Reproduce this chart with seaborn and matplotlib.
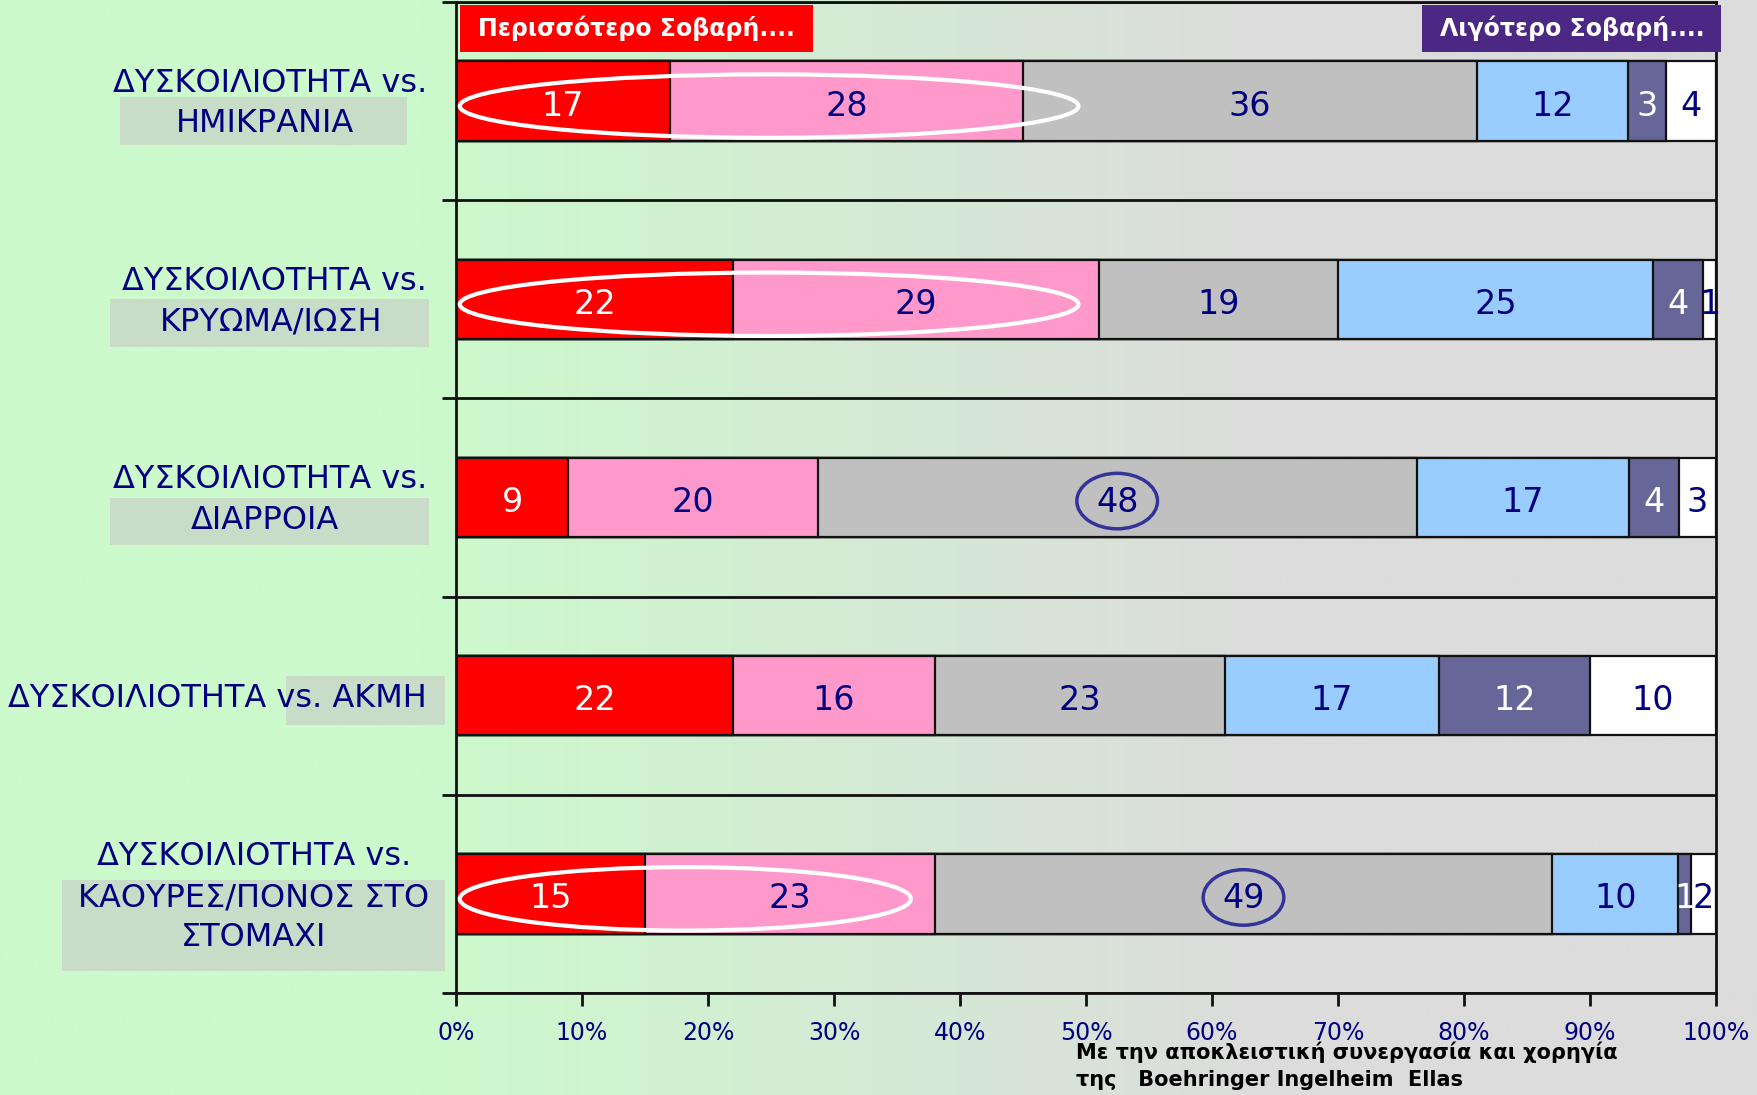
import numpy as np
import pandas as pd
import matplotlib
matplotlib.use('Agg')
import matplotlib.pyplot as plt
import seaborn as sns
from matplotlib.patches import Rectangle, Ellipse
from matplotlib.colors import to_rgb
import matplotlib.transforms as mtransforms

# Data (answer shares per comparison, % of respondents)
categories = ['ΗΜΙΚΡΑΝΙΑ', 'ΚΡΥΩΜΑ/ΙΩΣΗ', 'ΔΙΑΡΡΟΙΑ', 'ΑΚΜΗ', 'ΚΑΟΥΡΕΣ/ΠΟΝΟΣ ΣΤΟ ΣΤΟΜΑΧΙ']
much_more = [17, 22, 9, 22, 15]
more = [28, 29, 20, 16, 23]
same = [36, 19, 48, 23, 49]
less = [12, 25, 17, 17, 10]
much_less = [3, 4, 4, 12, 1]
dont_know = [4, 1, 3, 10, 2]
xtick_labels = ['0%', '10%', '20%', '30%', '40%', '50%', '60%', '70%', '80%', '90%', '100%']

series = [much_more, more, same, less, much_less, dont_know]
colors = ['#FF0000', '#FF99CC', '#C0C0C0', '#99CCFF', '#666699', '#FFFFFF']
text_colors = ['white', '#000080', '#000080', '#000080', 'white', '#000080']
navy = '#000080'

sns.set_style('white')
plt.rcParams['font.family'] = ['Liberation Sans Narrow', 'DejaVu Sans']

# 100% stacked shares
vals = np.array(series, dtype=float)          # shape (6, 5)
pct = vals / vals.sum(axis=0) * 100
cum = np.cumsum(pct, axis=0)

W, H = 1758, 1095
fig = plt.figure(figsize=(W / 100, H / 100), dpi=100)

# background gradient green -> gray
bg = fig.add_axes([0, 0, 1, 1], zorder=-10)
xs = np.linspace(0, 1, 600)
t = np.clip((xs - 0.24) / (0.72 - 0.24), 0, 1)
c0, c1 = np.array(to_rgb('#CCFACC')), np.array(to_rgb('#DCDCDC'))
grad = c0[None, :] * (1 - t[:, None]) + c1[None, :] * t[:, None]
bg.imshow(grad[None, :, :], aspect='auto', extent=[0, 1, 0, 1])
bg.axis('off')

ax = fig.add_axes([456 / W, 1 - 993 / H, (1716 - 456) / W, (993 - 2) / H])
ax.patch.set_alpha(0)

# draw stacked bars: cumulative totals, longest first
for k in range(len(series) - 1, -1, -1):
    df = pd.DataFrame({'cat': categories, 'cum': cum[k]})
    sns.barplot(data=df, x='cum', y='cat', orient='h', color=colors[k], saturation=1,
                width=0.4, edgecolor='#111111', linewidth=1.6, ax=ax, zorder=2)

# value labels
for k in range(len(series)):
    left = cum[k] - pct[k]
    for i in range(len(categories)):
        ax.text(left[i] + pct[k][i] / 2, i + 0.025, str(series[k][i]), ha='center', va='center',
                fontsize=24, color=text_colors[k], zorder=5)

ax.set_xlim(0, 100)
ax.set_ylim(4.5, -0.5)
ax.set_xlabel('')
ax.set_ylabel('')
ax.set_xticks(np.arange(0, 101, 10))
ax.set_xticklabels(xtick_labels, color=navy, fontsize=17)
ax.set_yticks([])
ax.set_yticks(np.arange(-0.5, 5, 1), minor=True)
ax.tick_params(axis='x', direction='out', length=9, width=2, color='#111111', pad=11, bottom=True)
ax.tick_params(axis='y', which='minor', direction='out', length=10, width=2, color='#111111', left=True)
ax.grid(True, axis='y', which='minor', color='#111111', linewidth=2)
ax.set_axisbelow(True)
for s in ax.spines.values():
    s.set_color('#111111')
    s.set_linewidth(2)

# highlight ellipses / circles
for i, x0, x1 in [(0, 0.3, 49.4), (1, 0.3, 49.4), (4, 0.3, 36.1)]:
    ax.add_patch(Ellipse(((x0 + x1) / 2, i + 0.025), x1 - x0, 0.32, fill=False,
                         edgecolor='white', linewidth=3, zorder=4))
for i in [2, 4]:
    xc = cum[2][i] - pct[2][i] / 2
    ax.add_patch(Ellipse((xc, i + 0.018), 6.4, 0.28, fill=False,
                         edgecolor='#333399', linewidth=2.5, zorder=4))

# banners
ax.add_patch(Rectangle((0.3, -0.487), 28.0, 0.239, facecolor='#FF0000', edgecolor='none',
                       zorder=3, clip_on=False))
ax.text(14.3, -0.368, 'Περισσότερο Σοβαρή....', ha='center', va='center', color='white',
        fontsize=17, fontweight='bold', zorder=5)
ax.add_patch(Rectangle((76.7, -0.487), 23.7, 0.239, facecolor='#4B2884', edgecolor='none',
                       zorder=3, clip_on=False))
ax.text(88.6, -0.368, 'Λιγότερο Σοβαρή....', ha='center', va='center', color='white',
        fontsize=17, fontweight='bold', zorder=5, clip_on=False)

# category labels (x in figure fraction, y in data units)
tr = mtransforms.blended_transform_factory(fig.transFigure, ax.transData)
box_c = '#C8DCC8'
lab_fs = 23
boxes = [(120, 407, 0, -0.02, 0.22), (110, 429, 1, 0.0, 0.24), (110, 429, 2, 0.0, 0.24),
         (286, 445, 3, -0.10, 0.148), (62, 445, 4, -0.07, 0.39)]
for x0, x1, i, y0, y1 in boxes:
    ax.add_patch(Rectangle((x0 / W, i + y0), (x1 - x0) / W, y1 - y0, transform=tr,
                           facecolor=box_c, edgecolor='none', clip_on=False, zorder=1))

head = ['ΔΥΣΚΟΙΛΙΟΤΗΤΑ vs.', 'ΔΥΣΚΟΙΛΟΤΗΤΑ vs.', 'ΔΥΣΚΟΙΛΙΟΤΗΤΑ vs.']
for i in range(3):
    ax.text(427 / W, i - 0.09, head[i], transform=tr, ha='right', va='center',
            fontsize=lab_fs, color=navy, clip_on=False)
    ax.text([265, 271, 265][i] / W, i + 0.115, categories[i], transform=tr, ha='center',
            va='center', fontsize=lab_fs, color=navy, clip_on=False)
ax.text(427 / W, 3.015, 'ΔΥΣΚΟΙΛΙΟΤΗΤΑ vs. ' + categories[3], transform=tr, ha='right',
        va='center', fontsize=lab_fs, color=navy, clip_on=False)
for dy, line in zip([-0.19, 0.02, 0.22], ['ΔΥΣΚΟΙΛΙΟΤΗΤΑ vs.', 'ΚΑΟΥΡΕΣ/ΠΟΝΟΣ ΣΤΟ', 'ΣΤΟΜΑΧΙ']):
    ax.text(254 / W, 4 + dy, line, transform=tr, ha='center', va='center',
            fontsize=lab_fs, color=navy, clip_on=False)

# footer
fig.text(1076 / W, 1 - 1052 / H, 'Με την αποκλειστική συνεργασία και χορηγία', ha='left',
         va='center', fontsize=15, fontweight='bold', color='black')
fig.text(1076 / W, 1 - 1080 / H, 'της   Boehringer Ingelheim  Ellas', ha='left',
         va='center', fontsize=15, fontweight='bold', color='black')

fig.savefig('out.png', dpi=100)
